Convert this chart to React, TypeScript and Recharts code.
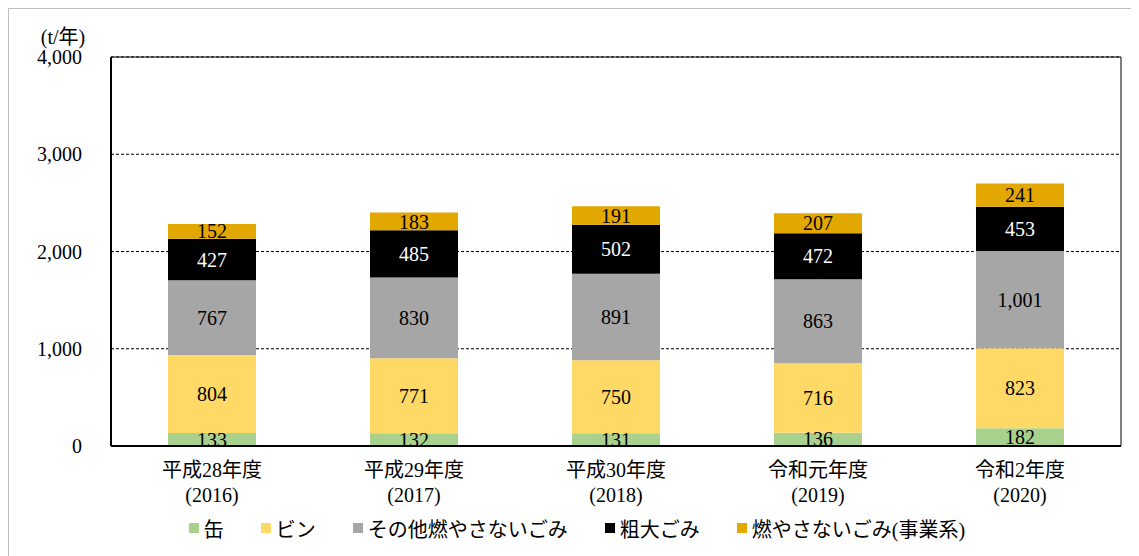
import React from "react";
import {
  BarChart,
  Bar,
  XAxis,
  YAxis,
  CartesianGrid,
  Legend,
  LabelList,
  ReferenceArea,
} from "recharts";

const categories = ["平成28年度", "平成29年度", "平成30年度", "令和元年度", "令和2年度"];
const years = ["(2016)", "(2017)", "(2018)", "(2019)", "(2020)"];

const kan = [133, 132, 131, 136, 182];
const bin = [804, 771, 750, 716, 823];
const sonota = [767, 830, 891, 863, 1001];
const sodai = [427, 485, 502, 472, 453];
const jigyo = [152, 183, 191, 207, 241];

const yTicks = [0, 1000, 2000, 3000, 4000];

const series = [
  { key: "缶", color: "#A9D18E", text: "#000" },
  { key: "ビン", color: "#FFD966", text: "#000" },
  { key: "その他燃やさないごみ", color: "#A6A6A6", text: "#000" },
  { key: "粗大ごみ", color: "#000000", text: "#fff" },
  { key: "燃やさないごみ(事業系)", color: "#E3A800", text: "#000" },
];

const data = categories.map((name, i) => ({
  name,
  缶: kan[i],
  ビン: bin[i],
  その他燃やさないごみ: sonota[i],
  粗大ごみ: sodai[i],
  "燃やさないごみ(事業系)": jigyo[i],
}));

const FONT = "'Liberation Serif', 'Noto Sans CJK JP', serif";
const fmt = (v: number) => v.toLocaleString("en-US");

const CategoryTick = ({ x, y, payload, index }: any) => (
  <g transform={`translate(${x},${y})`}>
    <text textAnchor="middle" y={23} fontSize={20} fill="#000" fontFamily={FONT}>
      {payload.value}
    </text>
    <text textAnchor="middle" y={48} fontSize={20} fill="#000" fontFamily={FONT}>
      {years[index]}
    </text>
  </g>
);

const LegendContent = () => (
  <div
    style={{
      display: "flex",
      justifyContent: "center",
      alignItems: "center",
      height: 26,
      fontFamily: FONT,
      fontSize: 20,
      color: "#000",
      paddingLeft: 12,
    }}
  >
    {series.map((s, i) => (
      <div
        key={s.key}
        style={{ display: "flex", alignItems: "center", marginRight: i < series.length - 1 ? 37 : 0 }}
      >
        <span
          style={{ width: 10, height: 10, background: s.color, display: "inline-block", marginRight: 5 }}
        />
        <span>{s.key}</span>
      </div>
    ))}
  </div>
);

const App = () => {
  return (
    <div
      style={{
        width: 1131,
        height: 548,
        borderTop: "1px solid #bfbfbf",
        borderLeft: "1px solid #bfbfbf",
        background: "#fff",
      }}
    >
      <BarChart
        width={1130}
        height={547}
        data={data}
        margin={{ top: 48, right: 18, left: 12, bottom: 15 }}
        barSize={88}
      >
        <CartesianGrid vertical={false} stroke="#000" strokeDasharray="3 2" />
        <ReferenceArea y1={0} y2={4000} fill="none" stroke="#000" strokeWidth={1} ifOverflow="visible" />
        <XAxis
          dataKey="name"
          tick={<CategoryTick />}
          tickLine={false}
          axisLine={{ stroke: "#000", strokeWidth: 2 }}
          height={69}
          interval={0}
        />
        <YAxis
          domain={[0, 4000]}
          ticks={yTicks}
          tickFormatter={fmt}
          tickLine={false}
          tickSize={0}
          tickMargin={29}
          axisLine={{ stroke: "#000", strokeWidth: 2 }}
          width={90}
          tick={{ fill: "#000", fontSize: 20, fontFamily: FONT }}
          label={{
            content: () => (
              <text x={54} y={35} textAnchor="middle" fontSize={20} fontFamily={FONT} fill="#000">
                (t/年)
              </text>
            ),
          }}
        />
        <Legend verticalAlign="bottom" content={<LegendContent />} />
        {series.map((s) => (
          <Bar key={s.key} dataKey={s.key} stackId="a" fill={s.color} isAnimationActive={false}>
            <LabelList
              dataKey={s.key}
              position="center"
              formatter={(v: any) => fmt(Number(v))}
              fill={s.text}
              fontSize={20}
              fontFamily={FONT}
            />
          </Bar>
        ))}
      </BarChart>
    </div>
  );
};

export default App;
